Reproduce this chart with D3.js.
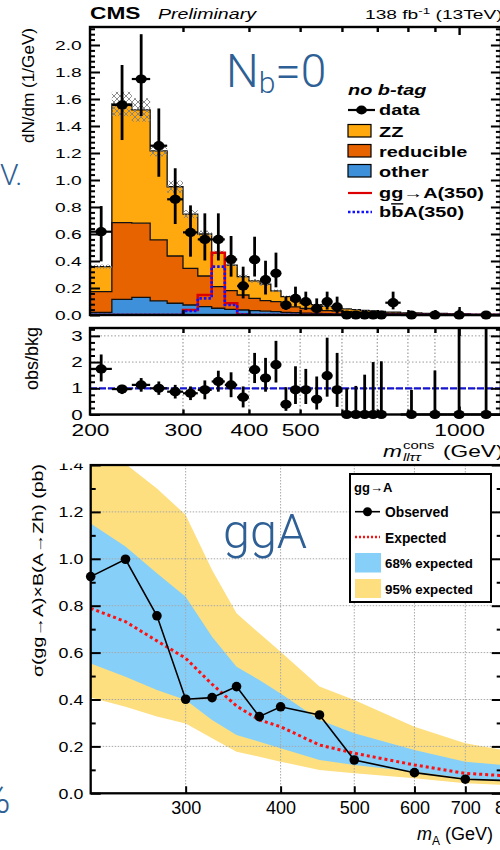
<!DOCTYPE html>
<html><head><meta charset="utf-8">
<script src="https://cdn.jsdelivr.net/npm/d3@7"></script>
<style>body{margin:0;background:#fff}svg{display:block}</style>
</head><body>
<svg id="c" width="500" height="850"></svg>
<script>
// ---------------- DATA: top histogram (N_b = 0) ----------------
const binEdges = [200,220,240,260,280,300,320,340,360,380,400,420,440,460,480,500,525,550,575,600,625,650,675,700,725,775,850,950,1050,1200];
const bkgOther = [0.02,0.116,0.131,0.104,0.087,0.074,0.062,0.05,0.042,0.037,0.032,0.028,0.025,0.02,0.017,0.014,0.012,0.01,0.009,0.008,0.007,0.006,0.005,0.005,0.004,0.003,0.002,0.002,0.001];
const bkgReducible = [0.153,0.568,0.549,0.452,0.35,0.272,0.227,0.16,0.138,0.111,0.091,0.078,0.074,0.054,0.043,0.034,0.028,0.023,0.019,0.016,0.014,0.012,0.011,0.009,0.007,0.005,0.004,0.002,0.002];
const bkgZZ = [0.185,0.879,0.839,0.659,0.513,0.401,0.311,0.247,0.19,0.136,0.13,0.122,0.08,0.062,0.051,0.041,0.037,0.031,0.024,0.021,0.019,0.017,0.014,0.013,0.011,0.008,0.005,0.004,0.002];
const bkgUnc = [0.015,0.09,0.087,0.04,0.045,0.03,0.025,0.02,0.018,0.015,0.014,0.012,0.01,0.008,0.007,0.006,0.005,0.004,0.004,0.003,0.003,0.003,0.002,0.002,0.002,0.002,0.001,0.001,0.001];
const sigGgA = [0,0,0,0,0,0.037,0.148,0.461,0.087,0.004,0,0,0,0,0,0,0,0,0,0,0,0,0,0,0,0,0,0,0];
const sigBbA = [0,0,0,0,0,0.03,0.123,0.358,0.074,0.003,0,0,0,0,0,0,0,0,0,0,0,0,0,0,0,0,0,0,0];
const dataVal = [0.617,1.556,1.748,1.254,0.857,0.612,0.56,0.56,0.412,0.215,0.41,0.262,0.309,0.074,0.123,0.099,0.049,0.099,0.06,0,0,0,0,0,0.091,0,0,0,0];
const dataErrUp = [0.19,0.296,0.332,0.276,0.23,0.2,0.193,0.193,0.173,0.143,0.17,0.14,0.153,0.062,0.087,0.074,0.074,0.074,0.076,0.01,0.01,0.01,0.01,0.01,0.082,0.01,0.01,0.04,0.01];
const dataErrDn = [0.22,0.26,0.274,0.23,0.183,0.18,0.156,0.156,0.128,0.092,0.125,0.11,0.104,0.037,0.061,0.062,0.039,0.059,0.05,0,0,0,0,0,0.049,0,0,0,0];
const ratioVal = [1.74,0.97,1.13,1.0,0.87,0.81,0.94,1.26,1.13,0.66,1.71,1.39,1.9,0.39,0.94,0.94,0.58,1.48,0.94,0,0,0,0,0,null,0,0,0,0];
const ratioHi = [2.29,1.13,1.39,1.26,1.13,1.07,1.30,1.67,1.61,1.07,2.35,2.16,2.81,1.04,1.84,1.74,1.45,2.93,2.35,1.0,1.09,1.52,2.0,2.03,null,0.94,1.68,4.0,4.0];
const ratioLo = [1.26,0.78,0.87,0.75,0.61,0.55,0.58,0.87,0.66,0.27,1.2,0.87,1.22,0.14,0.4,0.4,0.19,0.68,0.29,0,0,0,0,0,null,0,0,0,0];
const topYTicks = [0,0.2,0.4,0.6,0.8,1.0,1.2,1.4,1.6,1.8,2.0];
const ratioYTicks = [0,1,2,3];
const topXTickLabels = [200,300,400,500,1000];
const topXTicks = [300,400,500,600,700,800,900,1000];

// ---------------- DATA: limit plot (ggA) ----------------
const massA = [225,250,275,300,325,350,375,400,450,500,600,700,800];
const obsLimit = [0.924,0.998,0.757,0.401,0.408,0.455,0.327,0.369,0.334,0.142,0.088,0.06,0.054];
const expLimit = [0.789,0.732,0.65,0.576,0.465,0.372,0.313,0.284,0.206,0.171,0.121,0.085,0.074];
const exp68Hi = [1.151,1.052,0.938,0.838,0.668,0.54,0.483,0.426,0.313,0.256,0.185,0.135,0.118];
const exp68Lo = [0.554,0.497,0.44,0.398,0.313,0.249,0.22,0.192,0.142,0.121,0.092,0.064,0.054];
const exp95Hi = [1.55,1.405,1.30,1.187,0.952,0.768,0.682,0.604,0.455,0.398,0.284,0.213,0.18];
const exp95Lo = [0.409,0.369,0.327,0.298,0.235,0.177,0.156,0.135,0.099,0.085,0.064,0.043,0.035];
const limYTicks = [0,0.2,0.4,0.6,0.8,1.0,1.2,1.4];
const limXTicks = [300,400,500,600,700,800];

// ---------------- helpers ----------------
const SX = 1.42;
const FONT = '"Liberation Sans", Arial, Helvetica, sans-serif';
const BLUE_TXT = "#2e5f95";
const svg = d3.select("#c");
const defs = svg.append("defs");

function stext(g, x, y, str, size, o = {}) {
  return g.append("text")
    .attr("transform", `translate(${x},${y}) scale(${o.sx ?? SX},1)`)
    .attr("font-family", o.family || FONT).attr("font-size", size)
    .attr("font-weight", o.weight || "normal").attr("font-style", o.style || "normal")
    .attr("text-anchor", o.anchor || "start").attr("fill", o.fill || "#000").text(str);
}
function styleAxis(g, size, sx, lw) {
  g.select(".domain").remove();
  g.selectAll("line").attr("stroke", "#000").attr("stroke-width", lw || 2);
  g.selectAll("text").attr("font-family", FONT).attr("font-size", size).attr("fill", "#000")
    .attr("transform", `scale(${sx},1)`);
}

// ================= TOP PANEL =================
const x1 = d3.scaleLog().domain([200, 1200]).range([90, 500.9]);
const y1 = d3.scaleLinear().domain([0, 2.1333]).range([315, 27]);
const yR = d3.scaleLinear().domain([0, 3.3]).range([414.5, 328]);
const nb = bkgOther.length;
const idx = d3.range(nb + 1);
const vAt = (arr, i) => arr[Math.min(i, nb - 1)];

defs.append("clipPath").attr("id", "clipTop").append("rect").attr("x", 90).attr("y", 27).attr("width", 411).attr("height", 288);
defs.append("clipPath").attr("id", "clipTopData").append("rect").attr("x", 90).attr("y", 27).attr("width", 411).attr("height", 296);
const gTop = svg.append("g").attr("clip-path", "url(#clipTop)");

const rows = bkgOther.map((v, i) => ({other: v, reducible: bkgReducible[i], zz: bkgZZ[i]}));
const stacked = d3.stack().keys(["other", "reducible", "zz"])(rows);
const fills = {other: "#3f90da", reducible: "#e76300", zz: "#ffa90e"};
stacked.forEach(layer => {
  const area = d3.area().curve(d3.curveStepAfter)
    .x(i => x1(binEdges[i])).y0(i => y1(vAt(layer, i)[0])).y1(i => y1(vAt(layer, i)[1]));
  gTop.append("path").attr("d", area(idx)).attr("fill", fills[layer.key]);
});
stacked.forEach(layer => {
  const line = d3.line().curve(d3.curveStepAfter).x(i => x1(binEdges[i])).y(i => y1(vAt(layer, i)[1]));
  gTop.append("path").attr("d", line(idx)).attr("fill", "none").attr("stroke", "#111").attr("stroke-width", 1.3);
});
const total = stacked[2].map(d => d[1]);
const pat = defs.append("pattern").attr("id", "hatch").attr("patternUnits", "userSpaceOnUse").attr("width", 6).attr("height", 6);
pat.append("path").attr("d", "M0,0L6,6M6,0L0,6M-1,5L1,7M5,-1L7,1").attr("stroke", "#808080").attr("stroke-width", 0.9);
gTop.selectAll(".unc").data(d3.range(nb)).join("rect")
  .attr("x", i => x1(binEdges[i])).attr("width", i => x1(binEdges[i + 1]) - x1(binEdges[i]))
  .attr("y", i => y1(total[i] + bkgUnc[i])).attr("height", i => y1(total[i] - bkgUnc[i]) - y1(total[i] + bkgUnc[i]))
  .attr("fill", "url(#hatch)");

const sigLine = arr => d3.line().curve(d3.curveStepAfter).x(i => x1(binEdges[i])).y(i => y1(vAt(arr, i)))(idx);
gTop.append("path").attr("d", sigLine(sigGgA)).attr("fill", "none").attr("stroke", "#dd0000").attr("stroke-width", 2.6);
gTop.append("path").attr("d", sigLine(sigBbA)).attr("fill", "none").attr("stroke", "#1111ff").attr("stroke-width", 2.6).attr("stroke-dasharray", "2.5,2");

const gData = svg.append("g").attr("clip-path", "url(#clipTopData)");
d3.range(nb).forEach(i => {
  const xc = x1((binEdges[i] + binEdges[i + 1]) / 2);
  gData.append("line").attr("x1", xc).attr("x2", xc).attr("y1", y1(dataVal[i] - dataErrDn[i])).attr("y2", y1(dataVal[i] + dataErrUp[i]))
    .attr("stroke", "#000").attr("stroke-width", 2.8);
  gData.append("line").attr("x1", x1(binEdges[i])).attr("x2", x1(binEdges[i + 1])).attr("y1", y1(dataVal[i])).attr("y2", y1(dataVal[i]))
    .attr("stroke", "#000").attr("stroke-width", 2.2);
  gData.append("ellipse").attr("cx", xc).attr("cy", y1(dataVal[i])).attr("rx", 5.6).attr("ry", 4.6).attr("fill", "#000");
});

svg.append("rect").attr("x", 90).attr("y", 27).attr("width", 410.9).attr("height", 288).attr("fill", "none").attr("stroke", "#000").attr("stroke-width", 2.4);

// top panel axes
const minorTop = d3.range(0, 2.13, 0.04).filter(v => Math.abs(v / 0.2 - Math.round(v / 0.2)) > 0.01);
svg.append("g").attr("transform", "translate(90,0)")
  .call(d3.axisLeft(y1).tickValues(topYTicks).tickSizeInner(-10).tickSizeOuter(0).tickPadding(8.3 / SX).tickFormat(d3.format(".1f")))
  .call(g => styleAxis(g, 13.5, SX));
svg.append("g").attr("transform", "translate(90,0)")
  .call(d3.axisLeft(y1).tickValues(minorTop).tickSizeInner(-5).tickSizeOuter(0).tickFormat(""))
  .call(g => styleAxis(g, 10, 1));
svg.append("g").attr("transform", "translate(500.9,0)")
  .call(d3.axisRight(y1).tickValues(topYTicks).tickSizeInner(-10).tickSizeOuter(0).tickFormat(""))
  .call(g => styleAxis(g, 10, 1));
svg.append("g").attr("transform", "translate(500.9,0)")
  .call(d3.axisRight(y1).tickValues(minorTop).tickSizeInner(-5).tickSizeOuter(0).tickFormat(""))
  .call(g => styleAxis(g, 10, 1));
[[27, d3.axisTop], [315, d3.axisBottom]].forEach(([yy, ax]) => {
  svg.append("g").attr("transform", `translate(0,${yy})`)
    .call(ax(x1).tickValues(topXTicks.filter(v => v !== 1000)).tickSizeInner(-5).tickSizeOuter(0).tickFormat(""))
    .call(g => styleAxis(g, 10, 1, 2.4));
  svg.append("g").attr("transform", `translate(0,${yy})`)
    .call(ax(x1).tickValues([1000]).tickSizeInner(-8).tickSizeOuter(0).tickFormat(""))
    .call(g => styleAxis(g, 10, 1, 2.4));
});

// ================= RATIO PANEL =================
const gRg = svg.append("g");
ratioYTicks.filter(v => v > 0).forEach(v => {
  gRg.append("line").attr("x1", 90).attr("x2", 501).attr("y1", yR(v)).attr("y2", yR(v))
    .attr("stroke", "#9a9a9a").attr("stroke-width", 1).attr("stroke-dasharray", "1.5,2");
});
topXTicks.forEach(v => {
  gRg.append("line").attr("x1", x1(v)).attr("x2", x1(v)).attr("y1", 328).attr("y2", 414.5)
    .attr("stroke", "#9a9a9a").attr("stroke-width", 1.2).attr("stroke-dasharray", "1.5,2");
});
gRg.append("line").attr("x1", 90).attr("x2", 501).attr("y1", yR(1)).attr("y2", yR(1))
  .attr("stroke", "#1515d0").attr("stroke-width", 2.2).attr("stroke-dasharray", "7,2");

defs.append("clipPath").attr("id", "clipRatio").append("rect").attr("x", 90).attr("y", 328).attr("width", 411).attr("height", 93);
const gR = svg.append("g").attr("clip-path", "url(#clipRatio)");
d3.range(nb).forEach(i => {
  if (ratioVal[i] === null) return;
  const xc = x1((binEdges[i] + binEdges[i + 1]) / 2);
  gR.append("line").attr("x1", xc).attr("x2", xc).attr("y1", yR(ratioLo[i])).attr("y2", yR(ratioHi[i]))
    .attr("stroke", "#000").attr("stroke-width", 2.8);
  gR.append("line").attr("x1", x1(binEdges[i])).attr("x2", x1(binEdges[i + 1])).attr("y1", yR(ratioVal[i])).attr("y2", yR(ratioVal[i]))
    .attr("stroke", "#000").attr("stroke-width", 2.2);
  gR.append("ellipse").attr("cx", xc).attr("cy", yR(ratioVal[i])).attr("rx", 5.6).attr("ry", 4.6).attr("fill", "#000");
});
svg.append("rect").attr("x", 90).attr("y", 328).attr("width", 410.9).attr("height", 86.5).attr("fill", "none").attr("stroke", "#000").attr("stroke-width", 2.4);

const minorR = d3.range(0, 3.3, 0.25).filter(v => Math.abs(v - Math.round(v)) > 0.01);
svg.append("g").attr("transform", "translate(90,0)")
  .call(d3.axisLeft(yR).tickValues(ratioYTicks).tickSizeInner(-10).tickSizeOuter(0).tickPadding(7.3 / SX).tickFormat(d3.format("d")))
  .call(g => styleAxis(g, 14.5, SX));
svg.append("g").attr("transform", "translate(90,0)")
  .call(d3.axisLeft(yR).tickValues(minorR).tickSizeInner(-5).tickSizeOuter(0).tickFormat(""))
  .call(g => styleAxis(g, 10, 1));
svg.append("g").attr("transform", "translate(500.9,0)")
  .call(d3.axisRight(yR).tickValues(ratioYTicks).tickSizeInner(-10).tickSizeOuter(0).tickFormat(""))
  .call(g => styleAxis(g, 10, 1));
svg.append("g").attr("transform", "translate(500.9,0)")
  .call(d3.axisRight(yR).tickValues(minorR).tickSizeInner(-5).tickSizeOuter(0).tickFormat(""))
  .call(g => styleAxis(g, 10, 1));
[[328, d3.axisTop], [414.5, d3.axisBottom]].forEach(([yy, ax]) => {
  svg.append("g").attr("transform", `translate(0,${yy})`)
    .call(ax(x1).tickValues(topXTicks.filter(v => v !== 1000)).tickSizeInner(-5).tickSizeOuter(0).tickFormat(""))
    .call(g => styleAxis(g, 10, 1, 2.4));
  svg.append("g").attr("transform", `translate(0,${yy})`)
    .call(ax(x1).tickValues([1000]).tickSizeInner(-8).tickSizeOuter(0).tickFormat(""))
    .call(g => styleAxis(g, 10, 1, 2.4));
});
svg.append("g").attr("transform", "translate(0,414.5)")
  .call(d3.axisBottom(x1).tickValues(topXTickLabels).tickSize(0).tickPadding(10).tickFormat(d3.format("d")))
  .call(g => styleAxis(g, 16, SX));

// titles for top figure
stext(svg, 90, 18.5, "CMS", 16, {weight: "bold"});
stext(svg, 158, 18.5, "Preliminary", 13.8, {style: "italic"});
{
  const t = svg.append("text").attr("transform", `translate(365,18.5) scale(${SX},1)`)
    .attr("font-family", FONT).attr("font-size", 13.5);
  t.append("tspan").text("138 fb");
  t.append("tspan").attr("dy", -5).attr("font-size", 9.5).text("-1");
  t.append("tspan").attr("dy", 5).text(" (13TeV)");
}
stext(svg, 383, 457, "m", 16, {style: "italic"});
stext(svg, 403, 448.5, "cons", 10.5);
stext(svg, 403, 461, "llττ", 10.5, {style: "italic"});
stext(svg, 443, 457, "(GeV)", 16);
svg.append("text").attr("transform", "translate(34,28) rotate(-90)").attr("text-anchor", "end")
  .attr("font-family", FONT).attr("font-size", 16.8).attr("textLength", 115).attr("lengthAdjust", "spacingAndGlyphs").text("dN/dm (1/GeV)");
svg.append("text").attr("transform", "translate(38,327) rotate(-90)").attr("text-anchor", "end")
  .attr("font-family", FONT).attr("font-size", 18.5).attr("textLength", 63).attr("lengthAdjust", "spacingAndGlyphs").text("obs/bkg");

// top legend
stext(svg, 348, 95, "no b-tag", 14, {weight: "bold", style: "italic"});
svg.append("line").attr("x1", 348).attr("x2", 375).attr("y1", 110).attr("y2", 110).attr("stroke", "#000").attr("stroke-width", 2.2);
svg.append("ellipse").attr("cx", 361.5).attr("cy", 110).attr("rx", 5.4).attr("ry", 4.4).attr("fill", "#000");
stext(svg, 379, 115, "data", 14, {weight: "bold"});
[["ZZ", "zz", 124.5], ["reducible", "reducible", 144.5], ["other", "other", 164.5]].forEach(([lab, k, yy]) => {
  svg.append("rect").attr("x", 348).attr("y", yy).attr("width", 23).attr("height", 12.5).attr("fill", fills[k]).attr("stroke", "#000").attr("stroke-width", 1.2);
  stext(svg, 379, yy + 12.5, lab, 14, {weight: "bold"});
});
svg.append("line").attr("x1", 348).attr("x2", 372).attr("y1", 193).attr("y2", 193).attr("stroke", "#dd0000").attr("stroke-width", 2.2);
stext(svg, 379, 198, "gg→A(350)", 14, {weight: "bold"});
svg.append("line").attr("x1", 348).attr("x2", 372).attr("y1", 212).attr("y2", 212).attr("stroke", "#1111ff").attr("stroke-width", 2.4).attr("stroke-dasharray", "2.5,2");
{
  const t = svg.append("text").attr("transform", `translate(379,217) scale(${SX},1)`)
    .attr("font-family", FONT).attr("font-size", 14).attr("font-weight", "bold");
  t.append("tspan").text("b");
  t.append("tspan").attr("text-decoration", "overline").style("text-decoration", "overline").text("b");
  t.append("tspan").text("A(350)");
}

// ================= BOTTOM LIMIT PLOT =================
const xL = d3.scaleLog().domain([225, 800]).range([90.7, 509.4]);
const yL = d3.scaleLinear().domain([0, 1.4]).range([793.3, 465]);
defs.append("clipPath").attr("id", "clipLimFrame").append("rect").attr("x", 90.7).attr("y", 465).attr("width", 411).attr("height", 328.3);
defs.append("clipPath").attr("id", "clipLimAll").append("rect").attr("x", 0).attr("y", 463.6).attr("width", 500).attr("height", 400);
const gL = svg.append("g").attr("clip-path", "url(#clipLimAll)");
const gLp = gL.append("g").attr("clip-path", "url(#clipLimFrame)");
const li = d3.range(massA.length);
gLp.append("path").attr("d", d3.area().x(i => xL(massA[i])).y0(i => yL(exp95Lo[i])).y1(i => yL(exp95Hi[i]))(li)).attr("fill", "#fddf80");
gLp.append("path").attr("d", d3.area().x(i => xL(massA[i])).y0(i => yL(exp68Lo[i])).y1(i => yL(exp68Hi[i]))(li)).attr("fill", "#86cff9");
limYTicks.filter(v => v > 0 && v < 1.4).forEach(v => {
  gLp.append("line").attr("x1", 90.7).attr("x2", 501).attr("y1", yL(v)).attr("y2", yL(v))
    .attr("stroke", "#a8a8a8").attr("stroke-width", 1).attr("stroke-dasharray", "1.5,1.5");
});
limXTicks.forEach(v => {
  gLp.append("line").attr("x1", xL(v)).attr("x2", xL(v)).attr("y1", 465).attr("y2", 793.3)
    .attr("stroke", "#a8a8a8").attr("stroke-width", 1).attr("stroke-dasharray", "1.5,1.5");
});
gLp.append("path").attr("d", d3.line().x(i => xL(massA[i])).y(i => yL(expLimit[i]))(li))
  .attr("fill", "none").attr("stroke", "#ff1010").attr("stroke-width", 3).attr("stroke-dasharray", "3,3");
gLp.append("path").attr("d", d3.line().x(i => xL(massA[i])).y(i => yL(obsLimit[i]))(li))
  .attr("fill", "none").attr("stroke", "#000").attr("stroke-width", 1.6);
gL.selectAll(".obsdot").data(li).join("circle").attr("cx", i => xL(massA[i])).attr("cy", i => yL(obsLimit[i])).attr("r", 4.8).attr("fill", "#000");
gL.append("rect").attr("x", 90.7).attr("y", 465).attr("width", 411).attr("height", 328.3).attr("fill", "none").attr("stroke", "#000").attr("stroke-width", 2.3);

const minorL = d3.range(0.1, 1.4, 0.2);
gL.append("g").attr("transform", "translate(90.7,0)")
  .call(d3.axisLeft(yL).tickValues(limYTicks).tickSizeInner(-10).tickSizeOuter(0).tickPadding(7.4 / 1.15).tickFormat(d3.format(".1f")))
  .call(g => styleAxis(g, 15.5, 1.15));
gL.append("g").attr("transform", "translate(90.7,0)")
  .call(d3.axisLeft(yL).tickValues(minorL).tickSizeInner(-5).tickSizeOuter(0).tickFormat(""))
  .call(g => styleAxis(g, 10, 1));
gL.append("g").attr("transform", "translate(501.7,0)")
  .call(d3.axisRight(yL).tickValues(limYTicks).tickSizeInner(-10).tickSizeOuter(0).tickFormat(""))
  .call(g => styleAxis(g, 10, 1));
gL.append("g").attr("transform", "translate(501.7,0)")
  .call(d3.axisRight(yL).tickValues(minorL).tickSizeInner(-5).tickSizeOuter(0).tickFormat(""))
  .call(g => styleAxis(g, 10, 1));
gL.append("g").attr("transform", "translate(0,793.3)")
  .call(d3.axisBottom(xL).tickValues(limXTicks).tickSizeInner(-7).tickSizeOuter(0).tickPadding(7.5).tickFormat(d3.format("d")))
  .call(g => styleAxis(g, 18, 1));

// axis titles bottom
{
  const t = gL.append("text").attr("x", 417).attr("y", 840).attr("font-family", FONT).attr("font-size", 18);
  t.append("tspan").attr("font-style", "italic").text("m");
  t.append("tspan").attr("font-size", 12).attr("dy", 5).text("A");
  t.append("tspan").attr("dy", -5).text(" (GeV)");
}
gL.append("text").attr("transform", "translate(42.5,677) rotate(-90)").attr("text-anchor", "start")
  .attr("font-family", FONT).attr("font-size", 14).attr("textLength", 213).attr("lengthAdjust", "spacingAndGlyphs")
  .text("σ(gg→A)×B(A→Zh) (pb)");

// bottom legend
gL.append("rect").attr("x", 350).attr("y", 474).attr("width", 141).attr("height", 128).attr("fill", "#fff").attr("stroke", "#000").attr("stroke-width", 2);
gL.append("text").attr("x", 354).attr("y", 492).attr("font-family", FONT).attr("font-size", 13).attr("font-weight", "bold").text("gg→A");
gL.append("line").attr("x1", 355).attr("x2", 380).attr("y1", 511.7).attr("y2", 511.7).attr("stroke", "#000").attr("stroke-width", 1.6);
gL.append("circle").attr("cx", 367.5).attr("cy", 511.7).attr("r", 4.5).attr("fill", "#000");
gL.append("text").attr("x", 385).attr("y", 517).attr("font-family", FONT).attr("font-size", 13.8).attr("font-weight", "bold").text("Observed");
gL.append("line").attr("x1", 355).attr("x2", 380).attr("y1", 537).attr("y2", 537).attr("stroke", "#ff1010").attr("stroke-width", 2.4).attr("stroke-dasharray", "2,2");
gL.append("text").attr("x", 385).attr("y", 542.5).attr("font-family", FONT).attr("font-size", 13.8).attr("font-weight", "bold").text("Expected");
gL.append("rect").attr("x", 355).attr("y", 553).attr("width", 26).attr("height", 19.5).attr("fill", "#86cff9");
gL.append("text").attr("x", 385).attr("y", 568).attr("font-family", FONT).attr("font-size", 13.3).attr("font-weight", "bold").text("68% expected");
gL.append("rect").attr("x", 355).attr("y", 579).attr("width", 26).attr("height", 19).attr("fill", "#fddf80");
gL.append("text").attr("x", 385).attr("y", 593.5).attr("font-family", FONT).attr("font-size", 13.3).attr("font-weight", "bold").text("95% expected");

// ================= overlay annotations =================
const ANN = 'Roboto, "Open Sans", sans-serif';
{
  const t = svg.append("text").attr("x", 226).attr("y", 87).attr("font-family", ANN).attr("font-weight", 300)
    .attr("font-size", 46).attr("fill", BLUE_TXT);
  t.append("tspan").text("N");
  t.append("tspan").attr("font-size", 30).attr("dy", 6).text("b");
  t.append("tspan").attr("dy", -6).text("=0");
}
svg.append("text").attr("x", 223).attr("y", 548).attr("font-family", ANN).attr("font-weight", 300)
  .attr("font-size", 48.5).attr("fill", BLUE_TXT).text("ggA");
svg.append("text").attr("x", 22.5).attr("y", 185).attr("text-anchor", "end").attr("font-family", ANN).attr("font-weight", 300)
  .attr("font-size", 30).attr("fill", BLUE_TXT).text("V.");
svg.append("text").attr("x", 10.5).attr("y", 813).attr("text-anchor", "end").attr("font-family", ANN).attr("font-weight", 300)
  .attr("font-size", 42).attr("fill", BLUE_TXT).text("%");
</script>
</body></html>
